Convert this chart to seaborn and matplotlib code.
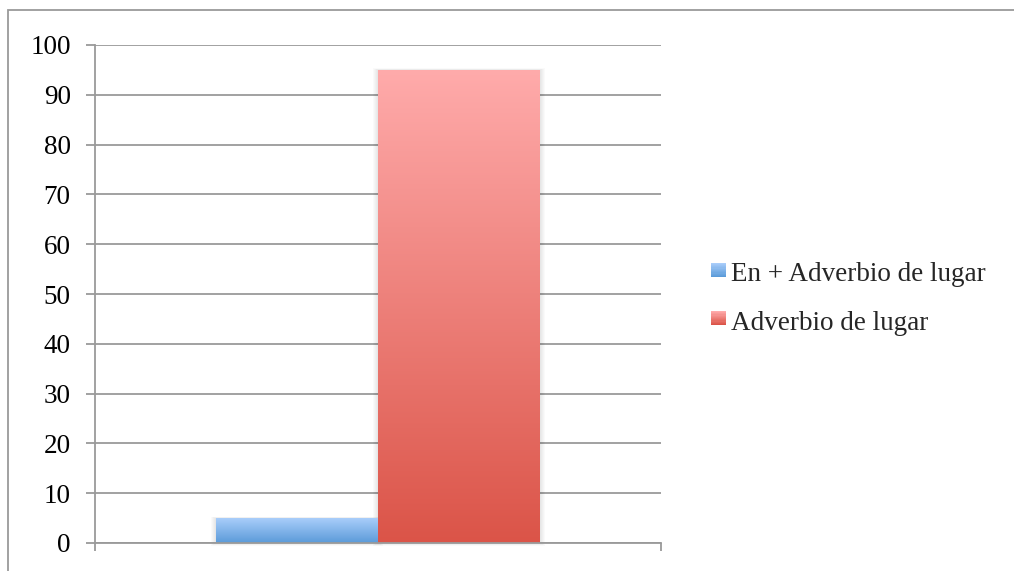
import numpy as np
import pandas as pd
import matplotlib
matplotlib.use("Agg")
import matplotlib.pyplot as plt
from matplotlib.colors import LinearSegmentedColormap, to_rgb
from matplotlib.patches import Rectangle
from matplotlib.legend_handler import HandlerBase
import seaborn as sns

# Data
categories = [""]
series = ["En + Adverbio de lugar", "Adverbio de lugar"]
values = [5, 95]
yticks = [0, 10, 20, 30, 40, 50, 60, 70, 80, 90, 100]

# Gradient colours (top, bottom) per series
gradients = {
    "En + Adverbio de lugar": ("#a9cdfa", "#5b9bd9"),
    "Adverbio de lugar": ("#ffabab", "#db5448"),
}

FS = 19.5

sns.set_theme(style="white")
plt.rcParams["font.family"] = ["Liberation Serif", "DejaVu Serif"]

df = pd.DataFrame({"cat": categories * len(series), "serie": series, "valor": values})

W, H = 1014, 571
fig = plt.figure(figsize=(W / 100, H / 100), dpi=100)
ax = fig.add_axes([95 / W, 28 / H, 566 / W, 498 / H])

sns.barplot(data=df, x="cat", y="valor", hue="serie", hue_order=series,
            palette=[gradients[s][1] for s in series], width=0.572,
            dodge=True, ax=ax, legend=False, saturation=1)

# pixel -> data unit conversion for the soft shadow
px_x = 1.0 / 566
px_y = 100.0 / 498

# Replace flat fills with vertical gradients clipped to each bar
for patch, s in zip(ax.patches, series):
    x0, y0 = patch.get_x(), patch.get_y()
    w, h = patch.get_width(), patch.get_height()
    top, bot = gradients[s]
    cmap = LinearSegmentedColormap.from_list(s, [top, bot])
    grad = np.linspace(0, 1, 256).reshape(-1, 1)
    for k in range(1, 6):
        ax.add_patch(Rectangle((x0 - k * px_x, y0 - k * px_y * 0.6), w + 2 * k * px_x,
                               h + k * px_y * 0.6 + k * px_y * 0.3,
                               facecolor="#000000", alpha=0.018, edgecolor="none",
                               zorder=1.5, clip_on=False))
    im = ax.imshow(grad, cmap=cmap, aspect="auto", extent=(x0, x0 + w, y0, y0 + h),
                   origin="upper", zorder=2)
    im.set_clip_path(patch)
    patch.set_facecolor("none")
    patch.set_edgecolor("none")

ax.set_xlim(-0.5, 0.5)
ax.set_ylim(0, 100)
ax.set_yticks(yticks)
ax.set_yticklabels([str(t) for t in yticks], fontsize=FS, color="#000000", va="center_baseline")
ax.set_xticks([-0.5, 0.5])
ax.set_xticklabels(["", ""])
ax.set_xlabel("")
ax.set_ylabel("")

grid_color = "#9a9a9a"
ax.yaxis.grid(True, color=grid_color, linewidth=1.3)
ax.set_axisbelow(True)
for side in ["top", "right"]:
    ax.spines[side].set_visible(False)
for side in ["left", "bottom"]:
    ax.spines[side].set_color(grid_color)
    ax.spines[side].set_linewidth(1.3)
ax.tick_params(axis="y", direction="out", length=6.5, width=1.3, color=grid_color, pad=11, left=True)
ax.tick_params(axis="x", direction="out", length=6, width=1.3, color=grid_color, bottom=True)


class GradientHandler(HandlerBase):
    def __init__(self, top, bot):
        super().__init__()
        self.top, self.bot = np.array(to_rgb(top)), np.array(to_rgb(bot))

    def create_artists(self, legend, orig_handle, xdescent, ydescent, width, height, fontsize, trans):
        n = 12
        arts = []
        size = 10.5
        x0 = -xdescent + width - size
        y0 = -ydescent + (height - size) / 2 + 1.5
        for i in range(n):
            t = i / (n - 1)
            c = self.top * (1 - t) + self.bot * t
            r = Rectangle((x0, y0 + size * (n - 1 - i) / n), size, size / n,
                          facecolor=c, edgecolor="none", transform=trans)
            arts.append(r)
        return arts


handles = [Rectangle((0, 0), 1, 1) for _ in series]
handler_map = {h: GradientHandler(*gradients[s]) for h, s in zip(handles, series)}
fig.legend(handles, series, handler_map=handler_map, loc="center left",
           bbox_to_anchor=(711 / W, 1 - 299 / H), frameon=False, fontsize=FS,
           handlelength=0.54, handletextpad=0.2, labelspacing=0.85, borderaxespad=0,
           borderpad=0)

# Outer chart frame
fig.patches.append(Rectangle((8 / W, -0.1), 1.2, 1.1 - 10 / H, transform=fig.transFigure,
                             facecolor="none", edgecolor="#9a9a9a", linewidth=1.3))

fig.savefig("out.png", dpi=100)
